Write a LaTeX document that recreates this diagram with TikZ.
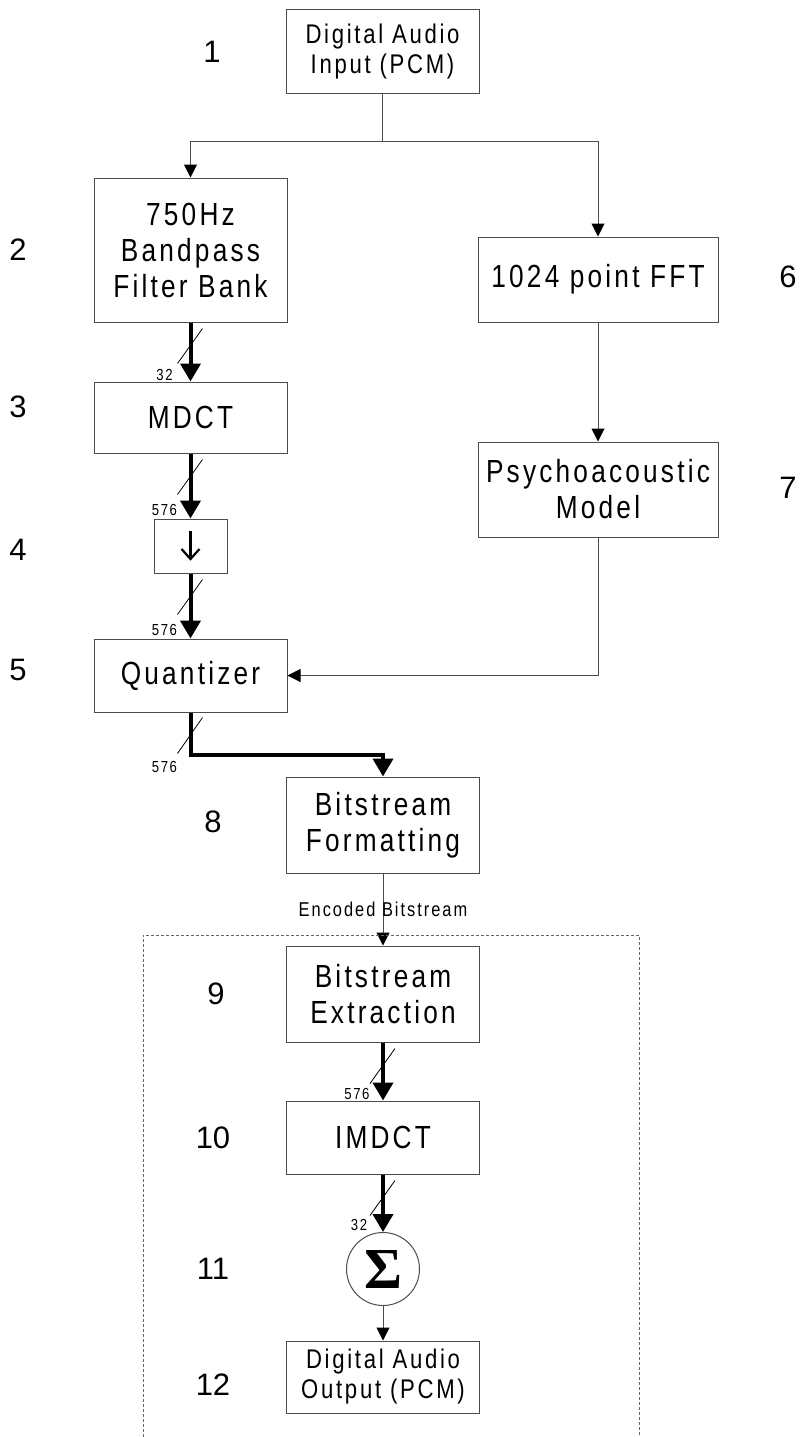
\documentclass[tikz,border=0pt]{standalone}
\usepackage{fontspec}
\setmainfont{Liberation Sans}
\newfontfamily\boxfont{Liberation Sans}[FakeStretch=0.82,LetterSpace=10]
\newfontfamily\sigfont{Liberation Serif}
\usetikzlibrary{arrows.meta,calc}
\begin{document}
\begin{tikzpicture}[x=1pt,y=-1pt,
  blk/.style={draw=black!70, line width=1pt, inner sep=0pt, align=center,
    font=\boxfont\fontsize{32}{36}\selectfont},
  colbox/.style={blk, minimum width=193pt},
  sidebox/.style={blk, minimum width=240pt},
  smalltext/.style={font=\boxfont\fontsize{27}{30}\selectfont},
  conn/.style={draw=black!70, line width=1pt, -{Triangle[length=13pt,width=13pt,color=black]}},
  plain/.style={draw=black!70, line width=1pt},
  bus/.style={draw=black, line width=4pt, -{Triangle[length=18pt,width=20pt]}},
  slash/.style={draw=black, line width=0.8pt},
  glyph/.style={draw=black, line width=2.2pt},
  buslab/.style={font=\boxfont\fontsize{16}{16}\selectfont, inner sep=0pt},
  num/.style={font=\fontsize{31}{31}\selectfont, inner sep=0pt},
  frame/.style={draw=black!60, line width=0.8pt, dash pattern=on 3pt off 2pt}
]
\useasboundingbox (0,0) rectangle (800,1437);

% blocks
\node[colbox, smalltext, minimum height=83pt] (in) at (382.5,51.5) {Digital Audio\\Input (PCM)};
\node[colbox, minimum height=144pt] (fb) at (190.5,250) {750Hz\\Bandpass\\Filter Bank};
\node[sidebox, minimum height=85pt] (fft) at (598,279.5) {1024 point FFT};
\node[colbox, minimum height=71pt] (mdct) at (190.5,417.5) {MDCT};
\node[blk, minimum width=73pt, minimum height=54pt] (dn) at (190.5,546) {};
\node[sidebox, minimum height=95pt] (psy) at (598,489.5) {Psychoacoustic\\Model};
\node[colbox, minimum height=73pt] (quant) at (190.5,675.5) {Quantizer};
\node[colbox, minimum height=96pt] (bsf) at (383,825) {Bitstream\\Formatting};
\node[colbox, minimum height=96pt] (bse) at (383,994) {Bitstream\\Extraction};
\node[colbox, minimum height=73pt] (imdct) at (383,1137.5) {IMDCT};
\node[draw=black!70, line width=1pt, circle, minimum size=73pt, inner sep=0pt] (sig) at (383,1269) {\sigfont\bfseries\fontsize{58}{58}\selectfont Σ};
\node[colbox, smalltext, minimum height=72pt] (out) at (383,1377) {Digital Audio\\Output (PCM)};

% down-sampling glyph inside box 4
\draw[glyph] ($(dn.center)+(0,-15)$) -- ($(dn.center)+(0,13)$);
\draw[glyph, line join=miter] ($(dn.center)+(-9,3)$) -- ($(dn.center)+(0,13)$) -- ($(dn.center)+(9,3)$);

% step numbers
\node[num] (n1) at (212,52) {1};
\node[num] (n2) at (18,250) {2};
\node[num] (n3) at (18,407) {3};
\node[num] (n4) at (18,550) {4};
\node[num] (n5) at (18,670) {5};
\node[num] (n6) at (788,277) {6};
\node[num] (n7) at (788,488) {7};
\node[num] (n8) at (213,822) {8};
\node[num] (n9) at (216,994) {9};
\node[num] (n10) at (213,1138) {10};
\node[num] (n11) at (213,1269) {11};
\node[num] (n12) at (213,1385) {12};

% split from input
\coordinate (sp) at (382.5,141);
\draw[plain] (in.south) -- (sp);
\draw[conn] (sp) -| (fb.north);
\draw[conn] (sp) -| (fft.north);

% right branch
\draw[conn] (fft.south) -- (psy.north);
\draw[conn] (psy.south) |- (quant.east);

% buses, left column
\draw[bus] (fb.south) -- (mdct.north);
\draw[slash] ($(fb.south)+(-13,41)$) -- ($(fb.south)+(12,6)$);
\node[buslab] (l1) at ($(mdct.north)+(-26,-7)$) {32};

\draw[bus] (mdct.south) -- (dn.north);
\draw[slash] ($(mdct.south)+(-13,41)$) -- ($(mdct.south)+(12,6)$);
\node[buslab] (l2) at ($(dn.north)+(-26,-9)$) {576};

\draw[bus] (dn.south) -- (quant.north);
\draw[slash] ($(dn.south)+(-13,41)$) -- ($(dn.south)+(12,6)$);
\node[buslab] (l3) at ($(quant.north)+(-26,-9)$) {576};

\coordinate (qc) at ($(quant.south)+(0,42)$);
\draw[bus] (quant.south) -- (qc) -| (bsf.north);
\draw[slash] ($(quant.south)+(-13,41)$) -- ($(quant.south)+(12,5)$);
\node[buslab] (l4) at ($(qc)+(-26,12)$) {576};

% encoded bitstream
\draw[conn] (bsf.south) -- (bse.north);
\node[font=\boxfont\fontsize{20}{20}\selectfont, inner sep=0pt] (enc) at (383,909) {Encoded Bitstream};

% decoder frame
\draw[frame] (143,1437) -- (143,935) -- (639,935) -- (639,1437);

% decoder buses
\draw[bus] (bse.south) -- (imdct.north);
\draw[slash] ($(bse.south)+(-13,41)$) -- ($(bse.south)+(12,6)$);
\node[buslab] (l5) at ($(imdct.north)+(-26,-7)$) {576};

\draw[bus] (imdct.south) -- (sig.north);
\draw[slash] ($(imdct.south)+(-13,41)$) -- ($(imdct.south)+(12,6)$);
\node[buslab] (l6) at ($(sig.north)+(-24,-7)$) {32};

\draw[conn] (sig.south) -- (out.north);
\end{tikzpicture}
\end{document}
